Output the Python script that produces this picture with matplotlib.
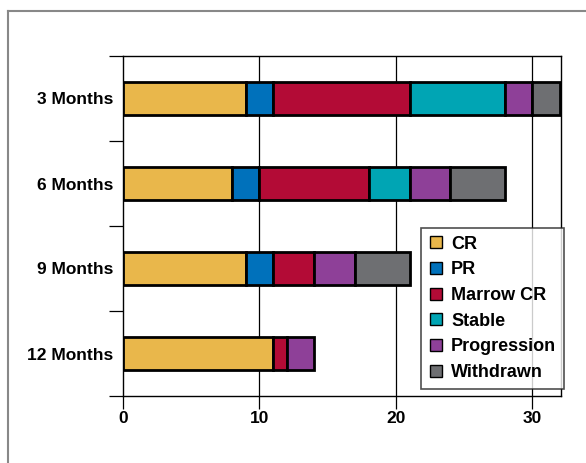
import matplotlib
matplotlib.use("Agg")
import matplotlib.pyplot as plt
from matplotlib.lines import Line2D
import numpy as np

categories = ["3 Months", "6 Months", "9 Months", "12 Months"]
series_names = ["CR", "PR", "Marrow CR", "Stable", "Progression", "Withdrawn"]
cr = [9, 8, 9, 11]
pr = [2, 2, 2, 0]
marrow_cr = [10, 8, 3, 1]
stable = [7, 3, 0, 0]
progression = [2, 3, 3, 2]
withdrawn = [2, 4, 4, 0]
series_values = [cr, pr, marrow_cr, stable, progression, withdrawn]
colors = ["#E9B74B", "#0071BB", "#B30B36", "#00A5B4", "#8E4098", "#6E6F72"]
x_ticks = [0, 10, 20, 30]

plt.rcParams['font.family'] = ['Liberation Sans', 'DejaVu Sans']
plt.rcParams['font.weight'] = 'bold'

fig = plt.figure(figsize=(5.86, 4.63), dpi=100)
ax = fig.add_axes([123/586, 1-396/463, (561-123)/586, (396-56)/463])

# outer frame (left & top visible)
fig.add_artist(Line2D([8/586, 8/586], [0, 1-11/463], transform=fig.transFigure, color="#888888", lw=1.5))
fig.add_artist(Line2D([8/586, 1], [1-11/463, 1-11/463], transform=fig.transFigure, color="#888888", lw=1.5))

y = np.arange(len(categories))
left = np.zeros(len(categories))
for name, vals, c in zip(series_names, series_values, colors):
    vals = np.array(vals, dtype=float)
    mask = vals > 0
    ax.barh(y[mask], vals[mask], left=left[mask], height=0.38, color=c,
            edgecolor="black", linewidth=2.0, zorder=3)
    left += vals

for xv in x_ticks[1:]:
    ax.axvline(xv, color="black", lw=0.9, zorder=1)

ax.set_xlim(0, 32.1)
ax.set_ylim(3.5, -0.5)
ax.set_yticks(y)
ax.set_yticklabels(categories, fontsize=12.5, fontweight='bold')
ax.set_yticks(np.arange(-0.5, 4.0, 1.0), minor=True)
ax.tick_params(axis='y', which='major', length=0, pad=7)
ax.tick_params(axis='y', which='minor', length=10, width=0.9, color="black")
ax.set_xticks(x_ticks)
ax.set_xticklabels([str(v) for v in x_ticks], fontsize=12.5, fontweight='bold')
ax.tick_params(axis='x', length=9, width=0.9, pad=2)
for s in ax.spines.values():
    s.set_linewidth(1.0)

handles = [Line2D([0], [0], marker='s', linestyle='None', markersize=9,
                  markerfacecolor=c, markeredgecolor='black', markeredgewidth=1.0)
           for c in colors]
leg = fig.legend(handles, series_names, loc='upper left',
                 bbox_to_anchor=(421/586, 1-228/463), bbox_transform=fig.transFigure,
                 prop={'size': 13, 'weight': 'bold'}, frameon=True, fancybox=False,
                 handlelength=0.8, handletextpad=0.45, labelspacing=0.48,
                 borderpad=0.42, borderaxespad=0)
leg.get_frame().set_edgecolor('#222222')
leg.get_frame().set_linewidth(1.2)
leg.set_zorder(10)

fig.savefig("out.png", dpi=100)
